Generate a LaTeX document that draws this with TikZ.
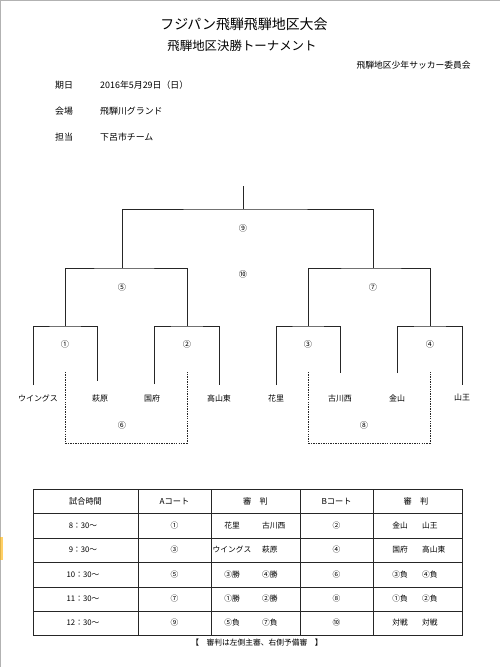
\documentclass[tikz,border=0pt]{standalone}
\usepackage{fontspec}
\setmainfont{Noto Sans CJK JP}
\begin{document}
\begin{tikzpicture}[x=0.03cm,y=-0.03cm,
  br/.style={line width=0.6pt, black!85},
  dsh/.style={line width=0.6pt, black!85, dash pattern=on 1.2pt off 0.9pt},
  tline/.style={line width=0.75pt, black!85},
  team/.style={font=\fontsize{6.8}{8}\selectfont, inner sep=0pt},
  num/.style={font=\fontsize{7}{8}\selectfont, inner sep=0pt},
  cell/.style={font=\fontsize{6.6}{8}\selectfont, inner sep=0pt},
  hcell/.style={font=\fontsize{7}{8}\selectfont, inner sep=0pt},
  info/.style={font=\fontsize{7.6}{9}\selectfont, anchor=west, inner sep=0pt}]
\useasboundingbox (0,0) rectangle (500,667);
\fill[white] (0,0) rectangle (500,667);
\draw[black!30, line width=0.8pt] (0.5,667) -- (0.5,0.5) -- (500,0.5);
\fill[orange!60!yellow, opacity=0.6] (0,537) rectangle (2.5,560);

% titles
\node[inner sep=0pt, font=\fontsize{11.9}{13}\selectfont] (t1) at (244,24) {フジパン飛騨飛騨地区大会};
\node[inner sep=0pt, font=\fontsize{10.6}{12}\selectfont] (t2) at (242,46) {飛騨地区決勝トーナメント};
\node[inner sep=0pt, anchor=east, font=\fontsize{7.5}{9}\selectfont] (org) at (471,65) {飛騨地区少年サッカー委員会};

% info
\node[info] (k1) at (55,85) {期日};
\node[info] (v1) at (100,85) {2016年5月29日（日）};
\node[info] (k2) at (55,111) {会場};
\node[info] (v2) at (100,111) {飛騨川グランド};
\node[info] (k3) at (55,137) {担当};
\node[info] (v3) at (100,137) {下呂市チーム};

% bracket coordinates
\coordinate (root) at (243,186);
\coordinate (fin) at (243,209);
\coordinate (s5) at (122,268);
\coordinate (s7) at (373,268);
\coordinate (m1) at (65,326);
\coordinate (m2) at (187,326);
\coordinate (m3) at (308,326);
\coordinate (m4) at (430,326);
\coordinate (e1) at (33,385);
\coordinate (e2) at (97,381);
\coordinate (e3) at (154,384);
\coordinate (e4) at (219,385);
\coordinate (e5) at (276,385);
\coordinate (e6) at (340,373);
\coordinate (e7) at (397,373);
\coordinate (e8) at (462,385);
\coordinate (d1) at (65,372);
\coordinate (d6) at (122,443);
\coordinate (d2) at (187,372);
\coordinate (d3) at (308,372);
\coordinate (d8) at (369,443);
\coordinate (d4) at (430,372);

\draw[br] (root) -- (fin);
\draw[br] (s5) |- (fin) -| (s7);
\draw[br] (m1) |- (s5) -| (m2);
\draw[br] (m3) |- (s7) -| (m4);
\draw[br] (e1) |- (m1) -| (e2);
\draw[br] (e3) |- (m2) -| (e4);
\draw[br] (e5) |- (m3) -| (e6);
\draw[br] (e7) |- (m4) -| (e8);
\draw[dsh] (d1) |- (d6) -| (d2);
\draw[dsh] (d3) |- (d8) -| (d4);

% match numbers
\node[num] (n9) at (243,228) {⑨};
\node[num] (n10) at (243,274) {⑩};
\node[num] (n5) at (122,287) {⑤};
\node[num] (n7) at (373,287) {⑦};
\node[num] (n1) at (65,344) {①};
\node[num] (n2) at (187,344) {②};
\node[num] (n3) at (308,344) {③};
\node[num] (n4) at (430,344) {④};
\node[num] (n6) at (122,425) {⑥};
\node[num] (n8) at (364,425) {⑧};

% teams
\node[team] (wings) at (38,398) {ウイングス};
\node[team] (hagi) at (100,398) {萩原};
\node[team] (kokufu) at (152,398) {国府};
\node[team] (takae) at (219,398) {高山東};
\node[team] (hanasato) at (276,398) {花里};
\node[team] (furu) at (340,398) {古川西};
\node[team] (kana) at (397,398) {金山};
\node[team] (sanno) at (462,398) {山王};

% table
\coordinate (tbl) at (33,489);
\coordinate (tbr) at (462,635);
\draw[tline] (tbl) rectangle (tbr);
\foreach \yy in {513,538,562,587,611} \draw[tline] (33,\yy) -- (462,\yy);
\foreach \xx in {138,211,300,373} \draw[tline] (\xx,489) -- (\xx,635);

\node[hcell] (h1) at (85.5,501) {試合時間};
\node[hcell] (h2) at (174.5,501) {Aコート};
\node[hcell] (h3) at (255.5,501) {審　判};
\node[hcell] (h4) at (336.5,501) {Bコート};
\node[hcell] (h5) at (416,501) {審　判};

\foreach \yy/\tm/\ac/\ra/\rb/\bc/\rc/\rd in {
  525.5/8：30～/①/花里/古川西/②/金山/山王,
  550/9：30～/③/ウイングス/萩原/④/国府/高山東,
  574.5/10：30～/⑤/③勝/④勝/⑥/③負/④負,
  599/11：30～/⑦/①勝/②勝/⑧/①負/②負,
  623/12：30～/⑨/⑤負/⑦負/⑩/対戦/対戦} {
  \node[cell] at (83,\yy) {\tm};
  \node[cell] at (174.5,\yy) {\ac};
  \node[cell] at (232,\yy) {\ra};
  \node[cell, anchor=west] at (262,\yy) {\rb};
  \node[cell] at (336.5,\yy) {\bc};
  \node[cell] at (400,\yy) {\rc};
  \node[cell, anchor=west] at (422,\yy) {\rd};
}
\node[cell] (foot) at (257,643) {【　審判は左側主審、右側予備審　】};
\end{tikzpicture}
\end{document}
